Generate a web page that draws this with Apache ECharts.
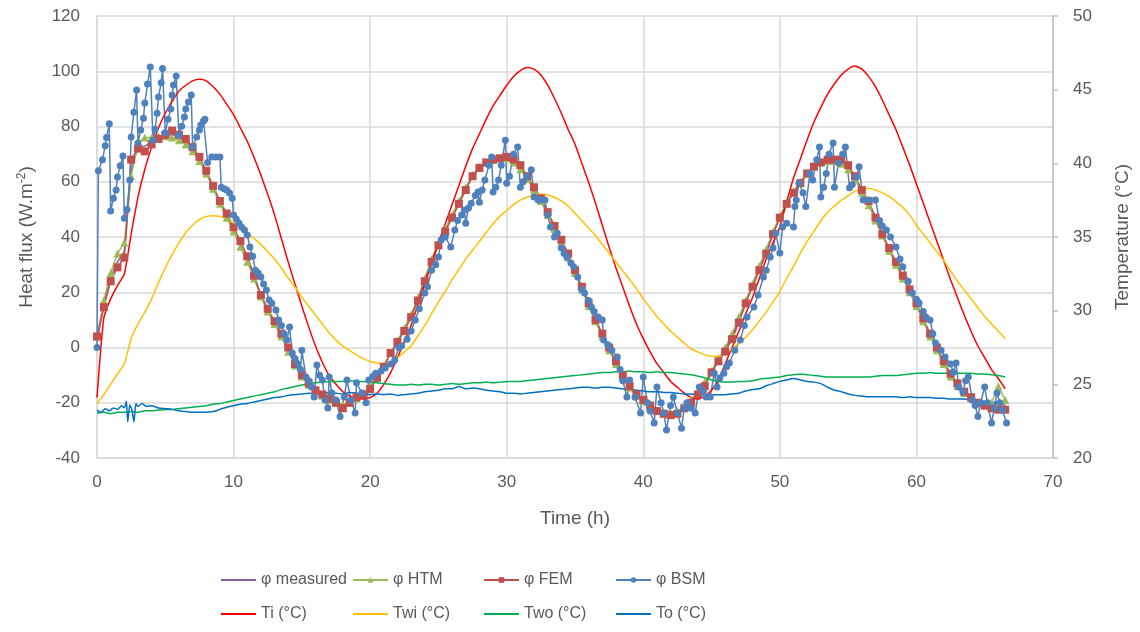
<!DOCTYPE html>
<html><head><meta charset="utf-8">
<script src="https://cdn.jsdelivr.net/npm/echarts/dist/echarts.min.js"></script>
<style>html,body{margin:0;padding:0;background:#fff}#c{width:1140px;height:632px}</style>
</head><body><div id="c"></div>
<script>
// ---- time grid (h) for the half-hourly series ----
const halfHourTime = [
0,0.5,1,1.5,2,2.5,3,3.5,4,4.5,
5,5.5,6,6.5,7,7.5,8,8.5,9,9.5,
10,10.5,11,11.5,12,12.5,13,13.5,14,14.5,
15,15.5,16,16.5,17,17.5,18,18.5,19,19.5,
20,20.5,21,21.5,22,22.5,23,23.5,24,24.5,
25,25.5,26,26.5,27,27.5,28,28.5,29,29.5,
30,30.5,31,31.5,32,32.5,33,33.5,34,34.5,
35,35.5,36,36.5,37,37.5,38,38.5,39,39.5,
40,40.5,41,41.5,42,42.5,43,43.5,44,44.5,
45,45.5,46,46.5,47,47.5,48,48.5,49,49.5,
50,50.5,51,51.5,52,52.5,53,53.5,54,54.5,
55,55.5,56,56.5,57,57.5,58,58.5,59,59.5,
60,60.5,61,61.5,62,62.5,63,63.5,64,64.5,
65,65.5,66,66.5];

// ---- heat flux (W.m-2) ----
const measuredFlux = [
2,15,25,31,35,64,72,73,74,75.5,
76.5,77,76,74.5,72,68.5,63.5,58,52.5,48,
43,38,32.5,26,19,13.5,9,4.5,-0.5,-6,
-10,-13,-15.5,-17.5,-19,-20,-21,-20,-18,-16.5,
-14.5,-11,-7,-2,2,6.5,11.5,17.5,24.5,31.5,
37.5,42.5,47.5,52.5,57.5,62,65,67,68,68.5,
68.5,67.5,65.5,61.5,57.5,53.5,48.5,43.5,38.5,33,
27.5,21.5,15.5,10,4.5,-0.5,-5.5,-10,-14,-17,
-19,-21,-22.5,-23.5,-24,-23.5,-22,-19.5,-16.5,-13,
-9,-4.5,-0.5,4,10,16.5,22.5,29,35,41.5,
47,52,56,59.5,63,65.5,67,67.5,67.5,67,
65,61.5,56.5,52,47.5,41,35.5,30.5,25.5,20.5,
15.5,10,4.5,-0.5,-5.5,-10,-13.5,-16,-18,-20,
-21,-21.5,-20,-21];

const htmFlux = [
4,17,27,34,38,62,74,76,76,76.5,
76.5,76,75,73.5,71,67.5,63,57.5,52,47,
42,36.5,31,25,18.5,13,8.5,4,-1.5,-6.5,
-10.5,-13.5,-16,-17.5,-19,-20,-20.5,-20,-18.5,-16.5,
-14,-10.5,-6.5,-2,2.5,7,12,18,25,32,
38,43,48,53,58,62.5,65.5,67,68,68.5,
68.5,67,64.5,61,57,53,48,43,38,32.5,
27,21,15,9.5,4,-1,-6,-10.5,-14.5,-17.5,
-19.5,-21.5,-23,-23.5,-23.5,-23,-21.5,-19,-16,-12.5,
-8.5,-4,0,5,11,17,23,29.5,35.5,42,
47.5,52.5,56.5,60,63,65.5,67,67.5,67.5,66.5,
64.5,61,56,51.5,46,40.5,35,30,25,20,
15,9.5,4,-1,-6,-10.5,-14,-16.5,-18.5,-20,
-21,-20,-14,-19];

const femFlux = [
4,14.6,24,29,32.5,68,72,71,73.5,75.5,
77,78.5,77,75.5,72.5,69,64,58.5,53,48.5,
43.5,38.5,33,26,19,14,9.5,5,0,-6,
-10,-13,-15.5,-17,-18.5,-20,-22,-20,-18,-17,
-15,-11,-7,-2,2,6,11,17,24,31,
37,42,47,52,57,62,65,67,68,68.5,
69,68,66,62,58,54,49,44,39,34,
28,22,16,10,5,0,-5,-10,-14,-17,
-19,-21,-23,-24,-24.5,-24,-22,-20,-17,-14,
-9,-5,-1.5,3,9,16,22,28,34,41,
47,52,56,59.5,63,65.5,67,68,68,68,
66,62,57,53,47,41,36,31,26,21,
16,10.5,5,0,-5,-9.5,-13,-16,-18,-20,
-21,-22,-22.5,-22.5];

const bsmTime = [
0,0.1,0.4,0.6,0.7,0.9,1.0,1.2,1.4,1.5,
1.7,1.9,2.0,2.2,2.4,2.5,2.7,2.9,3.0,3.2,
3.4,3.5,3.7,3.9,4.1,4.25,4.4,4.5,4.7,4.8,
5.0,5.2,5.4,5.5,5.6,5.8,6.0,6.2,6.4,6.5,
6.7,6.9,7.0,7.3,7.5,7.6,7.8,7.9,8.1,8.4,
8.7,9.0,9.1,9.3,9.5,9.7,9.9,10.0,10.2,10.4,
10.6,10.8,11.0,11.2,11.4,11.6,11.8,12.0,12.2,12.4,
12.6,12.8,13.1,13.3,13.5,13.7,13.9,14.1,14.3,14.5,
14.7,14.9,15.0,15.3,15.5,15.7,15.9,16.1,16.3,16.5,
16.7,16.9,17.0,17.2,17.5,17.8,18.1,18.3,18.6,18.9,
19.0,19.4,19.7,19.9,20.2,20.4,20.8,21.1,21.5,21.8,
22.1,22.3,22.7,23.0,23.3,23.6,24.0,24.2,24.5,24.8,
25.0,25.2,25.5,25.9,26.2,26.4,26.7,26.9,27.0,27.2,
27.4,27.7,27.9,28.0,28.2,28.4,28.7,28.9,29.0,29.2,
29.4,29.6,29.9,30.0,30.2,30.5,30.8,31.0,31.2,31.5,
31.8,32.0,32.3,32.5,32.8,33.0,33.2,33.5,33.7,34.0,
34.2,34.4,34.7,34.9,35.2,35.5,35.7,36.0,36.2,36.4,
36.7,37.0,37.1,37.4,37.7,38.1,38.3,38.5,38.8,39.0,
39.4,39.8,40.0,40.3,40.5,40.8,41.0,41.3,41.5,41.7,
42.0,42.2,42.5,42.8,43.0,43.2,43.5,43.8,44.1,44.4,
44.6,44.9,45.2,45.4,45.6,45.9,46.1,46.3,46.7,47.1,
47.4,47.6,48.1,48.4,48.8,49.0,49.3,49.5,49.7,50.0,
50.2,50.5,51.0,51.1,51.2,51.4,51.7,51.9,52.2,52.4,
52.7,52.9,53.0,53.2,53.4,53.6,53.9,54.0,54.3,54.6,
54.8,55.1,55.3,55.6,55.8,56.1,56.5,57.0,57.3,57.5,
57.8,58.1,58.5,58.8,59.0,59.4,59.7,60.0,60.2,60.5,
60.7,61.0,61.2,61.4,61.8,62.1,62.5,62.7,62.9,63.1,
63.4,63.6,63.8,64.1,64.3,64.5,64.7,65.0,65.2,65.5,
65.7,65.9,66.1,66.3,66.6];

const bsmFlux = [
0,64,68,73,76,81,49.4,54,57,61.7,
65.8,69.3,46.8,50,60.6,76.2,85.2,93.2,74,78.7,
83,88.5,95.4,101.5,75,79,84.8,90.7,95.8,101,
77.7,82.6,86.3,91.4,95,98.3,76.9,80.1,83.4,86.3,
88.9,91.4,72.6,76.2,78.7,80.5,82,82.6,67,69,
69,69,58,57.5,57,55.9,54,48,46.5,45,
43.5,42.5,40.7,36.4,33,28,27,25.5,23,20.8,
17.2,16,13.6,10,8,5,2.7,7.4,-2,-4,
-6,-8,-1,-10.7,-12,-14.3,-17.9,-6.3,-10,-11.8,
-19,-21.9,-10.7,-16.5,-19,-25,-17.9,-11.8,-19,-23.7,
-12.8,-16.5,-20,-11.8,-10.5,-9.3,-8.5,-7.4,-6,-4.5,
0,0.5,3,6,10,14,19.7,22,28,30,
32.8,38.9,40,36.4,42.5,46,48,49.8,45,50.5,
52.2,55,56.3,52.6,57,60.6,66,69,56.3,58,
60.6,66,75,59.5,62,70,72.6,58,60,62,
64.3,54.5,53.4,53.4,53.4,48,43.6,40,41.4,36,
34,32.8,30.6,29.2,25.5,21,19.7,17,14.7,13,
11,10,2.7,1,-1,-3.4,-8,-12,-17.9,-11.8,
-18,-23.7,-10.7,-20,-23,-27.3,-14.3,-20,-23.7,-29.9,
-21,-17.9,-23.7,-29.2,-22,-20,-22,-23.7,-14.3,-16,
-17.9,-17.9,-9.3,-14.3,-11,-9.3,-7,-5.6,-1,2.7,
8,11,14.7,19,25.5,28,32.8,36,41.4,34.2,
43.6,45,43.6,51,53.4,59.5,56,51,63,60.6,
68,72.6,54.5,58,63,70,74,58,66.8,70,
72.6,57.8,59,61.7,65.4,53.4,53.4,53.4,46,44,
42.5,40,36.4,32,29.2,24,19.7,17.5,16.1,13,
11,10,5,1.6,-1,-3.4,-6,-9,-5.6,-14.3,
-16,-12,-10.7,-19,-21,-25,-20,-14.3,-20,-27.3,
-22,-16.5,-20,-22.6,-27.3];

// ---- temperatures (°C) ----
const tiTemp = [
24.1,29.5,30.8,31.7,32.5,35.2,37.7,39.6,41.1,42.4,
43.4,44.2,44.9,45.3,45.6,45.7,45.6,45.2,44.7,44.0,
43.3,42.4,41.5,40.4,39.2,37.9,36.5,34.9,33.3,31.8,
30.3,28.9,27.6,26.5,25.6,25.0,24.5,24.2,24.05,24.0,
24.1,24.4,25.0,25.8,26.8,27.9,29.0,30.4,31.8,33.2,
34.6,35.9,37.2,38.5,39.8,41.0,42.0,43.0,43.9,44.6,
45.3,45.9,46.3,46.5,46.4,46.0,45.3,44.4,43.4,42.3,
41.3,40.0,38.7,37.3,35.8,34.3,32.9,31.6,30.3,29.1,
28.1,27.2,26.4,25.8,25.2,24.8,24.4,24.1,24.0,24.2,
24.6,25.3,26.4,27.5,28.6,29.8,30.9,32.2,33.5,34.6,
35.7,37.4,39.0,40.3,41.6,42.8,43.8,44.7,45.4,46.0,
46.4,46.6,46.4,45.9,45.2,44.3,43.3,42.3,41.1,39.9,
38.6,37.3,36.0,34.7,33.4,32.1,30.9,29.7,28.6,27.6,
26.8,26.0,25.4,24.7];

const twiTemp = [
23.7,24.3,25.0,25.7,26.4,28.1,29.1,29.9,30.8,31.9,
32.9,33.8,34.6,35.3,35.8,36.2,36.4,36.45,36.4,36.2,
35.95,35.6,35.3,34.9,34.5,34.0,33.5,32.9,32.2,31.6,
30.9,30.3,29.7,29.1,28.5,28.0,27.6,27.3,27.0,26.75,
26.55,26.45,26.4,26.5,26.8,27.2,27.6,28.3,29.0,29.8,
30.6,31.3,32.1,32.8,33.5,34.1,34.7,35.3,35.9,36.4,
36.8,37.2,37.5,37.7,37.85,37.9,37.85,37.7,37.45,37.1,
36.6,36.1,35.6,35.1,34.5,33.9,33.3,32.7,32.1,31.5,
30.8,30.2,29.6,29.1,28.6,28.2,27.8,27.4,27.2,27.0,
26.9,26.9,27.1,27.4,27.8,28.2,28.7,29.3,29.9,30.6,
31.3,32.2,33.0,33.9,34.7,35.4,36.1,36.7,37.1,37.5,
37.8,38.1,38.25,38.3,38.2,38.0,37.75,37.4,37.0,36.5,
35.8,35.2,34.6,34.0,33.4,32.7,32.0,31.4,30.8,30.2,
29.6,29.1,28.6,28.1];

const twoTemp = [
23.05,23.1,23.0,23.1,23.1,23.15,23.1,23.2,23.2,23.25,
23.3,23.3,23.35,23.4,23.45,23.5,23.55,23.65,23.7,23.8,
23.9,24.0,24.1,24.2,24.3,24.4,24.5,24.65,24.75,24.85,
24.95,25.05,25.1,25.15,25.2,25.2,25.2,25.25,25.2,25.2,
25.15,25.1,25.05,25.0,24.95,24.95,25.0,24.95,25.0,25.0,
24.95,25.0,25.05,25.0,25.05,25.1,25.1,25.15,25.1,25.15,
25.2,25.2,25.2,25.25,25.3,25.35,25.4,25.45,25.5,25.55,
25.6,25.65,25.7,25.75,25.8,25.8,25.85,25.85,25.9,25.85,
25.85,25.8,25.85,25.8,25.8,25.75,25.7,25.65,25.55,25.45,
25.3,25.2,25.15,25.15,25.2,25.2,25.25,25.35,25.4,25.45,
25.5,25.6,25.65,25.7,25.65,25.6,25.55,25.5,25.5,25.5,
25.5,25.5,25.5,25.5,25.55,25.6,25.6,25.6,25.65,25.7,
25.75,25.75,25.8,25.75,25.75,25.75,25.75,25.75,25.75,25.7,
25.7,25.65,25.6,25.5];

const toTime = [
0,0.3,0.6,0.9,1.2,1.5,1.8,2.0,2.15,2.25,
2.4,2.55,2.7,2.85,3.0,3.3,3.6,4,4.5,
5,5.5,6,6.5,7,7.5,8,8.5,9,9.5,
10,10.5,11,11.5,12,12.5,13,13.5,14,14.5,
15,15.5,16,16.5,17,17.5,18,18.5,19,19.5,
20,20.5,21,21.5,22,22.5,23,23.5,24,24.5,
25,25.5,26,26.5,27,27.5,28,28.5,29,29.5,
30,30.5,31,31.5,32,32.5,33,33.5,34,34.5,
35,35.5,36,36.5,37,37.5,38,38.5,39,39.5,
40,40.5,41,41.5,42,42.5,43,43.5,44,44.5,
45,45.5,46,46.5,47,47.5,48,48.5,49,49.5,
50,50.5,51,51.5,52,52.5,53,53.5,54,54.5,
55,55.5,56,56.5,57,57.5,58,58.5,59,59.5,
60,60.5,61,61.5,62,62.5,63,63.5,64,64.5,
65,65.5,66,66.5];

const toTemp = [
23.25,23.1,23.35,23.2,23.4,23.3,23.55,23.4,23.85,22.45,
23.6,23.3,22.45,23.7,23.5,23.7,23.5,23.55,23.4,
23.35,23.3,23.2,23.15,23.1,23.1,23.1,23.15,23.3,23.45,
23.55,23.65,23.7,23.8,23.9,24.0,24.1,24.15,24.25,24.3,
24.35,24.4,24.35,24.4,24.45,24.4,24.35,24.45,24.4,24.4,
24.3,24.35,24.3,24.35,24.25,24.3,24.35,24.4,24.5,24.55,
24.6,24.7,24.7,24.85,24.7,24.75,24.7,24.6,24.55,24.5,
24.4,24.4,24.35,24.4,24.45,24.5,24.55,24.6,24.65,24.7,
24.75,24.8,24.8,24.75,24.8,24.8,24.75,24.7,24.65,24.6,
24.55,24.5,24.5,24.45,24.45,24.4,24.35,24.35,24.3,24.3,
24.3,24.3,24.3,24.35,24.4,24.55,24.65,24.7,24.9,25.05,
25.2,25.3,25.4,25.3,25.2,25.15,25.05,24.8,24.6,24.5,
24.35,24.25,24.2,24.15,24.15,24.15,24.15,24.15,24.1,24.15,
24.1,24.1,24.1,24.05,24.05,24.0,24.0,24.0,23.95,23.9,
23.85,23.8,23.75,23.7];

const fluxTicks = {min: -40, max: 120, step: 20};
const tempTicks = {min: 20, max: 50, step: 5};
const timeTicks = {min: 0, max: 70, step: 10};

const pairs = (ts, vs) => ts.map((t, i) => [t, vs[i]]);
const FONT = '"Liberation Sans", Arial, sans-serif';
const TXT = '#595959';
const GRIDC = '#d9d9d9';

function lineSeries(name, ts, vs, color, yIdx, symbol, size) {
  return {
    name, type: 'line', yAxisIndex: yIdx, data: pairs(ts, vs),
    symbol: symbol || 'none', symbolSize: size || 0, showAllSymbol: true,
    lineStyle: {color, width: 1.5}, itemStyle: {color, borderWidth: 0},
    emphasis: {disabled: true}, animation: false
  };
}

const series = [
  lineSeries('φ measured', halfHourTime, measuredFlux, '#8064A2', 0),
  lineSeries('φ HTM', halfHourTime, htmFlux, '#9BBB59', 0, 'triangle', 8),
  lineSeries('φ FEM', halfHourTime, femFlux, '#C0504D', 0, 'rect', 8),
  lineSeries('φ BSM', bsmTime, bsmFlux, '#4F81BD', 0, 'circle', 7),
  lineSeries('Ti (°C)', halfHourTime, tiTemp, '#FF0000', 1),
  lineSeries('Twi (°C)', halfHourTime, twiTemp, '#FFC000', 1),
  lineSeries('Two (°C)', halfHourTime, twoTemp, '#00B050', 1),
  lineSeries('To (°C)', toTime, toTemp, '#0070C0', 1)
];
series.forEach(s => { if (s.symbol === 'none') s.smooth = 0.2; });

const legendCols = [220, 352, 483, 615];
const legendRows = [572, 606];
const legend = series.map((s, i) => ({
  data: [s.name], left: legendCols[i % 4], top: legendRows[Math.floor(i / 4)],
  itemWidth: 35, itemHeight: 7, itemGap: 0, padding: 0,
  itemStyle: s.symbol === 'none' ? {opacity: 0} : {},
  textStyle: {fontSize: 16, color: TXT, fontFamily: FONT, padding: [0, 0, 0, 0]},
  selectedMode: false
}));

const chart = echarts.init(document.getElementById('c'), null, {renderer: 'canvas'});
chart.setOption({
  backgroundColor: '#fff',
  animation: false,
  textStyle: {fontFamily: FONT},
  grid: {left: 97, right: 82, top: 16, bottom: 174, containLabel: false},
  legend,
  xAxis: {
    type: 'value', min: timeTicks.min, max: timeTicks.max, interval: timeTicks.step,
    name: 'Time (h)', nameLocation: 'middle', nameGap: 51,
    nameTextStyle: {fontSize: 19, color: TXT, fontFamily: FONT},
    axisLine: {show: true, onZero: false, lineStyle: {color: GRIDC, width: 1.5}},
    axisTick: {show: false},
    axisLabel: {fontSize: 17, color: TXT, margin: 16, fontFamily: FONT},
    splitLine: {show: true, lineStyle: {color: GRIDC, width: 1.5}}
  },
  yAxis: [{
    type: 'value', min: fluxTicks.min, max: fluxTicks.max, interval: fluxTicks.step,
    name: 'Heat flux (W.m{sup|-2})', nameLocation: 'middle', nameGap: 60, nameRotate: 90,
    nameTextStyle: {fontSize: 19, color: TXT, fontFamily: FONT,
      rich: {sup: {fontSize: 12, color: TXT, fontFamily: FONT, verticalAlign: 'top', padding: [0, 0, 9, 0]}}},
    axisLine: {show: true, lineStyle: {color: GRIDC, width: 1.5}},
    axisTick: {show: false},
    axisLabel: {fontSize: 17, color: TXT, margin: 17, fontFamily: FONT},
    splitLine: {show: true, lineStyle: {color: GRIDC, width: 1.5}}
  }, {
    type: 'value', position: 'right', min: tempTicks.min, max: tempTicks.max, interval: tempTicks.step,
    name: 'Temperature (°C)', nameLocation: 'middle', nameGap: 60, nameRotate: 90,
    nameTextStyle: {fontSize: 19, color: TXT, fontFamily: FONT},
    axisLine: {show: true, lineStyle: {color: '#bfbfbf', width: 1.5}},
    axisTick: {show: true, inside: false, length: 5, lineStyle: {color: '#bfbfbf', width: 1.5}},
    axisLabel: {fontSize: 17, color: TXT, margin: 20, fontFamily: FONT},
    splitLine: {show: false}
  }],
  series
});
</script></body></html>
